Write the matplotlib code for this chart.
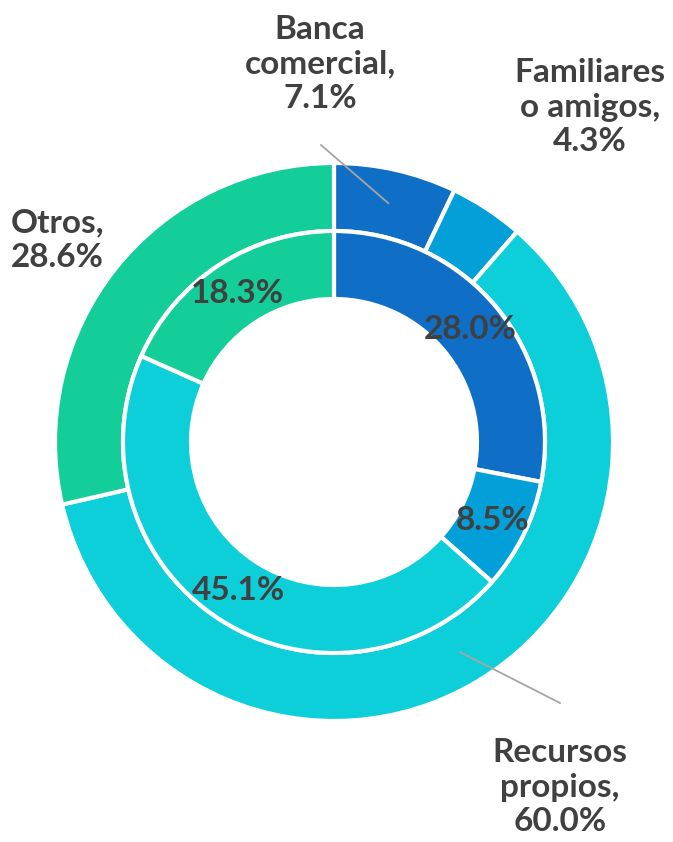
import numpy as np
import matplotlib
matplotlib.use("Agg")
import matplotlib.pyplot as plt

# outer ring: source of financing
outer_labels = ["Banca\ncomercial,", "Familiares\no amigos,", "Recursos\npropios,", "Otros,"]
outer_values = [7.1, 4.3, 60.0, 28.6]
# inner ring
inner_values = [28.0, 8.5, 45.1, 18.3]
colors = ["#0F6FC6", "#039FD8", "#0DCFDA", "#13CE98"]

plt.rcParams['font.family'] = ['Lato', 'DejaVu Sans']
txt_color = "#404040"

fig = plt.figure(figsize=(6.73, 8.42), dpi=100)
ax = fig.add_axes([0, 0, 1, 1])

cx, cy = 334, 842 - 442
r_out, r_mid, r_in = 279, 211, 143

wp = dict(edgecolor="white", linewidth=3)
ax.pie(outer_values, radius=r_out, center=(cx, cy), colors=colors,
       startangle=90, counterclock=False, normalize=True,
       wedgeprops=dict(width=r_out - r_mid, **wp))
ax.pie(inner_values, radius=r_mid, center=(cx, cy), colors=colors,
       startangle=90, counterclock=False, normalize=True,
       autopct=lambda p: f"{p:.1f}%", pctdistance=177 / r_mid,
       textprops=dict(fontsize=24, fontweight='bold', color=txt_color),
       wedgeprops=dict(width=r_mid - r_in, **wp))

# outer labels (positions in pixel coordinates)
tot = sum(outer_values)
cum = np.cumsum([0] + outer_values)
mids = [(cum[i] + cum[i + 1]) / 2 / tot * 360 for i in range(len(outer_values))]
label_pos = [(320, 842 - 64), (590, 842 - 107), (560, 842 - 787), (57, 842 - 240)]
line_end = [(321, 842 - 145), None, (560, 842 - 703), None]
for i, lab in enumerate(outer_labels):
    text = f"{lab}\n{outer_values[i]:.1f}%"
    ax.text(*label_pos[i], text, ha='center', va='center', fontsize=24,
            fontweight='bold', color=txt_color, linespacing=1.22)
    if line_end[i] is not None:
        a = np.deg2rad(mids[i])
        r = (r_out + r_mid) / 2
        px, py = cx + r * np.sin(a), cy + r * np.cos(a)
        ax.plot([px, line_end[i][0]], [py, line_end[i][1]], color="#A6A6A6", lw=1.3)

ax.set_xlim(0, 673)
ax.set_ylim(0, 842)
ax.set_aspect('equal')
ax.axis('off')
fig.savefig("out.png", dpi=100)
